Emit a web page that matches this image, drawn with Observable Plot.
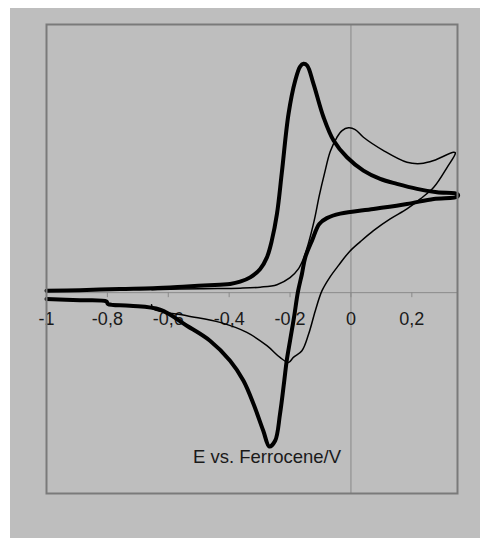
<!DOCTYPE html>
<html>
<head>
<meta charset="utf-8">
<script src="https://cdn.jsdelivr.net/npm/d3@7"></script>
<script src="https://cdn.jsdelivr.net/npm/@observablehq/plot@0.6"></script>
<style>
  html, body { margin: 0; padding: 0; background: #ffffff; }
  #wrap { padding: 8px 0 0 10px; width: 470px; height: 530px; }
  #wrap svg { display: block; background: #bebebe; }
</style>
</head>
<body>
<div id="wrap"></div>
<script>
// Potential (V vs. Ferrocene) and current (arbitrary units) — thick CV
const thickE = [-1.000,-0.890,-0.759,-0.650,-0.539,-0.430,-0.397,-0.364,-0.331,-0.298,-0.276,-0.260,
  -0.243,-0.227,-0.205,-0.183,-0.167,-0.156,-0.144,-0.123,-0.090,-0.057,-0.013,0.041,0.096,0.151,0.217,0.283,0.350,
  0.350,0.272,0.184,0.074,-0.035,-0.079,-0.104,-0.128,-0.150,-0.161,-0.174,-0.187,-0.200,-0.211,-0.219,-0.233,-0.249,-0.268,
  -0.288,-0.320,-0.353,-0.397,-0.463,-0.539,-0.627,-0.726,-0.798,-0.803,-0.890,-1.000];
const thickI = [0.20,0.25,0.37,0.45,0.62,0.80,0.87,1.10,1.53,2.37,3.53,5.20,
  7.87,12.0,17.87,21.2,22.6,22.87,22.7,20.87,17.53,15.2,13.53,12.2,11.37,10.87,10.37,10.03,9.85,
  9.6,9.37,8.87,8.37,7.9,7.45,6.87,5.2,3.53,1.87,0.1,-2.47,-4.8,-6.8,-8.8,-12.13,-14.8,-15.37,
  -13.8,-11.13,-8.8,-6.8,-4.8,-3.3,-1.7,-1.3,-1.13,-0.88,-0.75,-0.63];

// thin CV
const thinE = [-0.654,-0.496,-0.364,-0.298,-0.243,-0.200,-0.172,-0.156,-0.140,-0.120,-0.104,-0.087,-0.068,-0.046,-0.029,
  -0.008,0.014,0.041,0.107,0.184,0.230,0.272,0.337,0.343,
  0.316,0.272,0.228,0.184,0.129,0.074,0.031,-0.005,-0.040,-0.068,-0.095,-0.117,-0.139,-0.161,-0.189,-0.205,
  -0.233,-0.276,-0.342,-0.430,-0.539,-0.649,-0.655];
const thinI = [0.30,0.40,0.45,0.55,0.80,1.50,2.40,3.40,4.90,7.30,9.70,11.90,14.10,15.53,16.20,
  16.47,16.30,15.53,14.20,13.03,12.90,13.20,14.03,13.97,
  12.53,10.53,9.37,8.37,7.37,6.20,5.10,4.10,2.75,1.60,0.20,-1.80,-4.13,-5.80,-6.47,-6.97,
  -6.47,-5.30,-3.97,-2.97,-2.30,-1.63,-1.20];

const tickValues = [-1, -0.8, -0.6, -0.4, -0.2, 0, 0.2];
const tickLabels = ["-1", "-0,8", "-0,6", "-0,4", "-0,2", "0", "0,2"];
const axisTitle = "E vs. Ferrocene/V";

const font = "'Liberation Sans', Arial, sans-serif";

const chart = Plot.plot({
  width: 470,
  height: 530,
  marginLeft: 36,
  marginRight: 23,
  marginTop: 16,
  marginBottom: 45,
  style: { background: "#bebebe", fontFamily: font, color: "#1a1a1a" },
  x: { domain: [-1, 0.35], axis: null },
  y: { domain: [-20.07, 26.8], axis: null },
  marks: [
    Plot.ruleX([0], { stroke: "#8a8a8a", strokeWidth: 1 }),
    Plot.ruleY([0], { stroke: "#8a8a8a", strokeWidth: 1 }),
    Plot.ruleX(tickValues, { x: d => d, y1: 0, y2: -0.5, stroke: "#8a8a8a", strokeWidth: 1 }),
    Plot.text(tickValues, { x: d => d, y: 0, text: (d, i) => tickLabels[i], dy: 27, fontSize: 18, fill: "#1a1a1a" }),
    Plot.text([axisTitle], { frameAnchor: "bottom", dx: 15, dy: -31, lineAnchor: "bottom", fontSize: 18.5, fill: "#1a1a1a" }),
    Plot.line(d3.range(thinE.length), { x: i => thinE[i], y: i => thinI[i], stroke: "#000", strokeWidth: 1.5, curve: "catmull-rom" }),
    Plot.line(d3.range(thickE.length), { x: i => thickE[i], y: i => thickI[i], stroke: "#000", strokeWidth: 4, curve: "catmull-rom" }),
    Plot.frame({ stroke: "#7a7a7a", strokeWidth: 2 })
  ]
});
document.getElementById("wrap").appendChild(chart);
</script>
</body>
</html>
